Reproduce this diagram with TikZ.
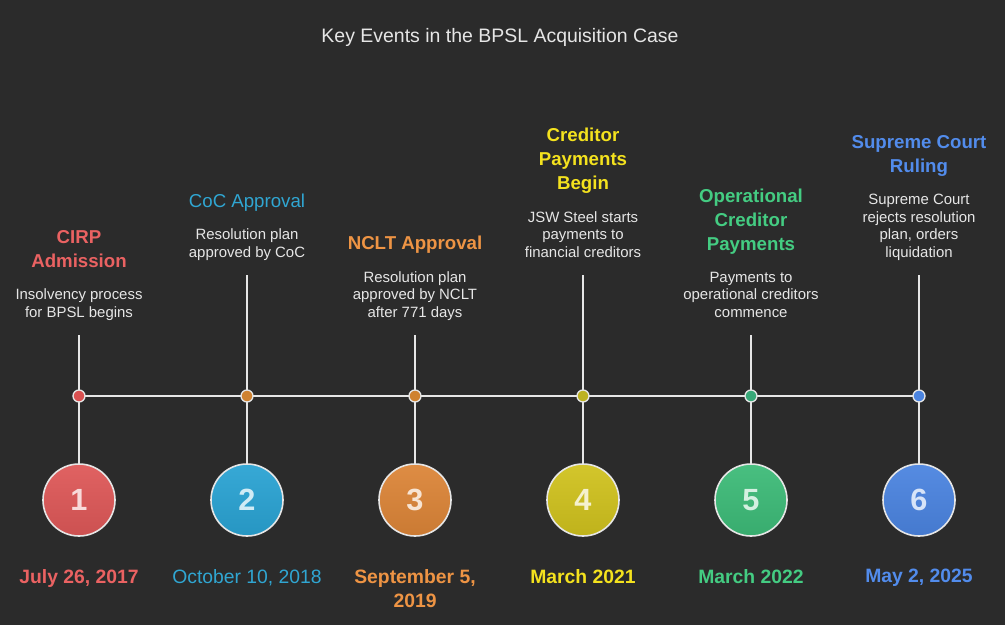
\documentclass[tikz,border=0pt]{standalone}
\usepackage{fontspec}
\setmainfont{Liberation Sans}
\usepackage{xcolor}
\usetikzlibrary{positioning}

\definecolor{bgdark}{HTML}{2B2B2B}
\definecolor{linegray}{HTML}{E6E6E6}
\definecolor{ev1}{HTML}{DE5858}
\definecolor{ev2}{HTML}{2AA3D3}
\definecolor{ev3}{HTML}{DC8538}
\definecolor{ev4}{HTML}{D0C21E}
\definecolor{ev5}{HTML}{3DBB78}
\definecolor{ev6}{HTML}{4B84E0}
\definecolor{tx1}{HTML}{EA6262}
\definecolor{tx2}{HTML}{30A6D2}
\definecolor{tx3}{HTML}{EE9444}
\definecolor{tx4}{HTML}{F4E21E}
\definecolor{tx5}{HTML}{44CC82}
\definecolor{tx6}{HTML}{528CEC}
\definecolor{dt1}{HTML}{D95050}
\definecolor{dt2}{HTML}{CF8230}
\definecolor{dt3}{HTML}{CF8230}
\definecolor{dt4}{HTML}{BDB222}
\definecolor{dt5}{HTML}{38A878}
\definecolor{dt6}{HTML}{4B84E0}

\tikzset{
  stem/.style={draw=linegray, line width=1.4pt},
  dot/.style={circle, draw=linegray, line width=1pt, minimum size=9pt, inner sep=0pt},
  bubble/.style={circle, draw=linegray, line width=1.2pt, minimum size=54pt, inner sep=0pt,
    font=\bfseries\fontsize{23}{23}\selectfont},
  evdesc/.style={align=center, inner sep=0pt, text=linegray, font=\fontsize{11.2}{13.2}\selectfont},
}

\begin{document}
\begin{tikzpicture}[x=0.75pt, y=-0.75pt]
    \fill[bgdark] (0,0) rectangle (1005,625);
    \useasboundingbox (0,0) rectangle (1005,625);

    \node[text=linegray, font=\fontsize{14.6}{16}\selectfont] (heading) at (500,37)
        {Key Events in the BPSL Acquisition Case};

    % stems, bubbles and texts
    \foreach \i/\x/\top/\fw/\title/\desc/\date in {
        1/79/335/\bfseries/{CIRP\\Admission}/{Insolvency process\\for BPSL begins}/{July 26, 2017},
        2/247/275/\mdseries/{CoC Approval}/{Resolution plan\\approved by CoC}/{October 10, 2018},
        3/415/335/\bfseries/{NCLT Approval}/{Resolution plan\\approved by NCLT\\after 771 days}/{September 5,\\2019},
        4/583/275/\bfseries/{Creditor\\Payments\\Begin}/{JSW Steel starts\\payments to\\financial creditors}/{March 2021},
        5/751/335/\bfseries/{Operational\\Creditor\\Payments}/{Payments to\\operational creditors\\commence}/{March 2022},
        6/919/275/\bfseries/{Supreme Court\\Ruling}/{Supreme Court\\rejects resolution\\plan, orders\\liquidation}/{May 2, 2025}}
    {
        \coordinate (top\i) at (\x,\top);
        \coordinate (mid\i) at (\x,396);
        \node[bubble, top color=ev\i!94!white, bottom color=ev\i!92!black, text=ev\i!22!white] (num\i) at (\x,500) {\i};
        \draw[stem] (top\i) -- (num\i);
        \node[evdesc, anchor=south] (desc\i) at (\x,{\top-12}) {\desc\strut};
        \node[align=center, inner sep=0pt, text=tx\i, font={\fw\fontsize{14}{18}\selectfont},
            above=10.5pt of desc\i] (title\i) {\title\strut};
        \node[align=center, inner sep=0pt, anchor=north, text=tx\i, font={\fw\fontsize{14.5}{18}\selectfont}]
            (date\i) at (\x,569) {\date};
    }

    \draw[stem] (mid1) -- (mid6); % time axis
    \foreach \i in {1,...,6}
        \node[dot, fill=dt\i] (dot\i) at (mid\i) {};
\end{tikzpicture}
\end{document}
